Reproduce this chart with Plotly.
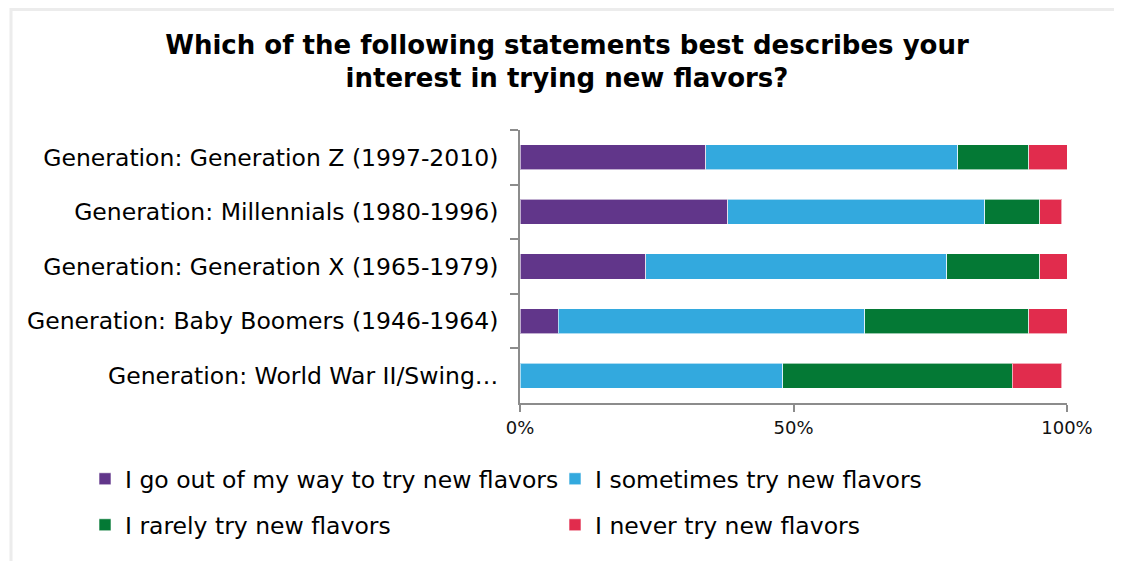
import plotly.graph_objects as go

categories = [
    "Generation: Generation Z (1997-2010)",
    "Generation: Millennials (1980-1996)",
    "Generation: Generation X (1965-1979)",
    "Generation: Baby Boomers (1946-1964)",
    "Generation: World War II/Swing…",
]
out_of_way = [34, 38, 23, 7, 0]
sometimes = [46, 47, 55, 56, 48]
rarely = [13, 10, 17, 30, 42]
never = [7, 4, 5, 7, 9]

series_names = [
    "I go out of my way to try new flavors",
    "I sometimes try new flavors",
    "I rarely try new flavors",
    "I never try new flavors",
]
series_values = [out_of_way, sometimes, rarely, never]
colors = ["#61368A", "#33A9DE", "#047935", "#E12C4D"]
legend_ids = ["legend", "legend", "legend2", "legend2"]

FONT = "DejaVu Sans"

fig = go.Figure()
for name, vals, col, lg in zip(series_names, series_values, colors, legend_ids):
    fig.add_trace(go.Bar(
        y=categories, x=vals, name=name, orientation="h",
        marker=dict(color=col, line=dict(color="rgba(255,255,255,0.6)", width=1)),
        legend=lg,
    ))

# page has an 8px body margin; figure sized to fit the window
OFF = 8
PAGE_W, PAGE_H = 1122, 561
W, H = PAGE_W - OFF, PAGE_H - OFF

# plot area in page coordinates
PX0, PX1, PY0, PY1 = 520, 1067, 130, 403
L, R = PX0 - OFF, W - (PX1 - OFF)
T, B = PY0 - OFF, H - (PY1 - OFF)
pw, ph = PX1 - PX0, PY1 - PY0


def px_x(p):
    return (p - PX0) / pw


def px_y(p):
    return (PY1 - p) / ph


fig.update_layout(
    width=W, height=H,
    barmode="stack", bargap=0.54,
    plot_bgcolor="white", paper_bgcolor="white",
    margin=dict(l=L, r=R, t=T, b=B),
    font=dict(family=FONT, color="#000000"),
    title=dict(
        text="<b>Which of the following statements best describes your<br>interest in trying new flavors?</b>",
        x=559 / W, xanchor="center", y=1 - 45.5 / H, yanchor="middle",
        font=dict(size=26, family=FONT, color="#000000"),
    ),
    xaxis=dict(
        range=[0, 100], tickvals=[0, 50, 100], ticktext=["0%", "50%", "100%"],
        showgrid=False, zeroline=False, showline=True, linecolor="#8c8c8c", linewidth=2,
        ticks="outside", ticklen=7, tickcolor="#8c8c8c", tickwidth=2,
        tickfont=dict(size=18, family=FONT, color="#111111"),
        fixedrange=True,
    ),
    yaxis=dict(
        autorange="reversed", showgrid=False, showline=True, linecolor="#8c8c8c", linewidth=2,
        ticks="outside", ticklen=8, tickcolor="#8c8c8c", tickwidth=2, tickson="boundaries",
        tickfont=dict(size=23.5, family=FONT, color="#000000"),
        ticksuffix="  ",
        fixedrange=True,
    ),
    legend=dict(
        orientation="h", x=px_x(85), y=px_y(479), xanchor="left", yanchor="middle",
        font=dict(size=23.5, family=FONT), entrywidth=425, entrywidthmode="pixels",
        bgcolor="rgba(0,0,0,0)", traceorder="normal",
    ),
    legend2=dict(
        orientation="h", x=px_x(85), y=px_y(525), xanchor="left", yanchor="middle",
        font=dict(size=23.5, family=FONT), entrywidth=425, entrywidthmode="pixels",
        bgcolor="rgba(0,0,0,0)", traceorder="normal",
    ),
    shapes=[dict(
        type="rect", xref="paper", yref="paper",
        x0=px_x(11), x1=px_x(1119), y0=px_y(9.5), y1=px_y(600),
        line=dict(color="#ececec", width=3), fillcolor="rgba(0,0,0,0)", layer="below",
    )],
)

fig.write_html("out.html")
